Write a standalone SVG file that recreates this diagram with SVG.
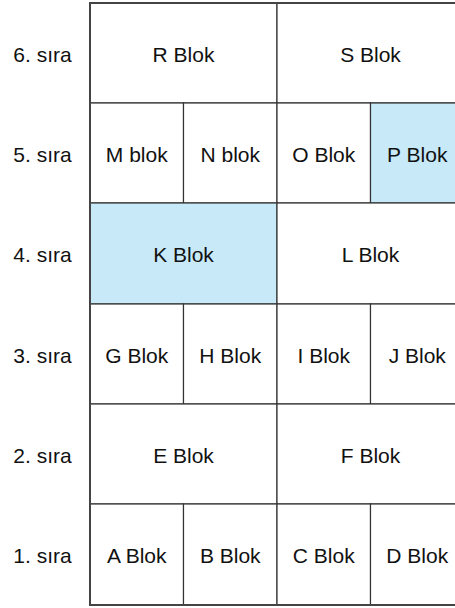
<svg xmlns="http://www.w3.org/2000/svg" width="455" height="608" viewBox="0 0 455 608">
<style>
.c{fill:#fff;stroke:#333;stroke-width:1.2}
.h{fill:#C7E9F8;stroke:#333;stroke-width:1.2}
text{font-family:"Liberation Sans",Arial,sans-serif;font-size:21px;fill:#111;text-anchor:middle}
</style>
<rect width="455" height="608" fill="#fff"/>
<g id="labels">
<text x="42.5" y="62">6. sıra</text>
<text x="42.5" y="162">5. sıra</text>
<text x="42.5" y="262">4. sıra</text>
<text x="42.5" y="363">3. sıra</text>
<text x="42.5" y="463">2. sıra</text>
<text x="42.5" y="563">1. sıra</text>
</g>
<g id="R"><rect class="c" x="90" y="3" width="187" height="100"/><text x="183.5" y="62">R Blok</text></g>
<g id="S"><rect class="c" x="277" y="3" width="187" height="100"/><text x="370.5" y="62">S Blok</text></g>
<g id="M"><rect class="c" x="90" y="103" width="93.5" height="100"/><text x="136.75" y="162">M blok</text></g>
<g id="N"><rect class="c" x="183.5" y="103" width="93.5" height="100"/><text x="230.25" y="162">N blok</text></g>
<g id="O"><rect class="c" x="277" y="103" width="93.5" height="100"/><text x="323.75" y="162">O Blok</text></g>
<g id="P"><rect class="h" x="370.5" y="103" width="93.5" height="100"/><text x="417.25" y="162">P Blok</text></g>
<g id="K"><rect class="h" x="90" y="203" width="187" height="101"/><text x="183.5" y="262">K Blok</text></g>
<g id="L"><rect class="c" x="277" y="203" width="187" height="101"/><text x="370.5" y="262">L Blok</text></g>
<g id="G"><rect class="c" x="90" y="304" width="93.5" height="100"/><text x="136.75" y="363">G Blok</text></g>
<g id="H"><rect class="c" x="183.5" y="304" width="93.5" height="100"/><text x="230.25" y="363">H Blok</text></g>
<g id="I"><rect class="c" x="277" y="304" width="93.5" height="100"/><text x="323.75" y="363">I Blok</text></g>
<g id="J"><rect class="c" x="370.5" y="304" width="93.5" height="100"/><text x="417.25" y="363">J Blok</text></g>
<g id="E"><rect class="c" x="90" y="404" width="187" height="100"/><text x="183.5" y="463">E Blok</text></g>
<g id="F"><rect class="c" x="277" y="404" width="187" height="100"/><text x="370.5" y="463">F Blok</text></g>
<g id="A"><rect class="c" x="90" y="504" width="93.5" height="101"/><text x="136.75" y="563">A Blok</text></g>
<g id="B"><rect class="c" x="183.5" y="504" width="93.5" height="101"/><text x="230.25" y="563">B Blok</text></g>
<g id="C"><rect class="c" x="277" y="504" width="93.5" height="101"/><text x="323.75" y="563">C Blok</text></g>
<g id="D"><rect class="c" x="370.5" y="504" width="93.5" height="101"/><text x="417.25" y="563">D Blok</text></g>
<g id="connectors"><rect x="90" y="3" width="374" height="602" fill="none" stroke="#444" stroke-width="2"/></g>
</svg>
